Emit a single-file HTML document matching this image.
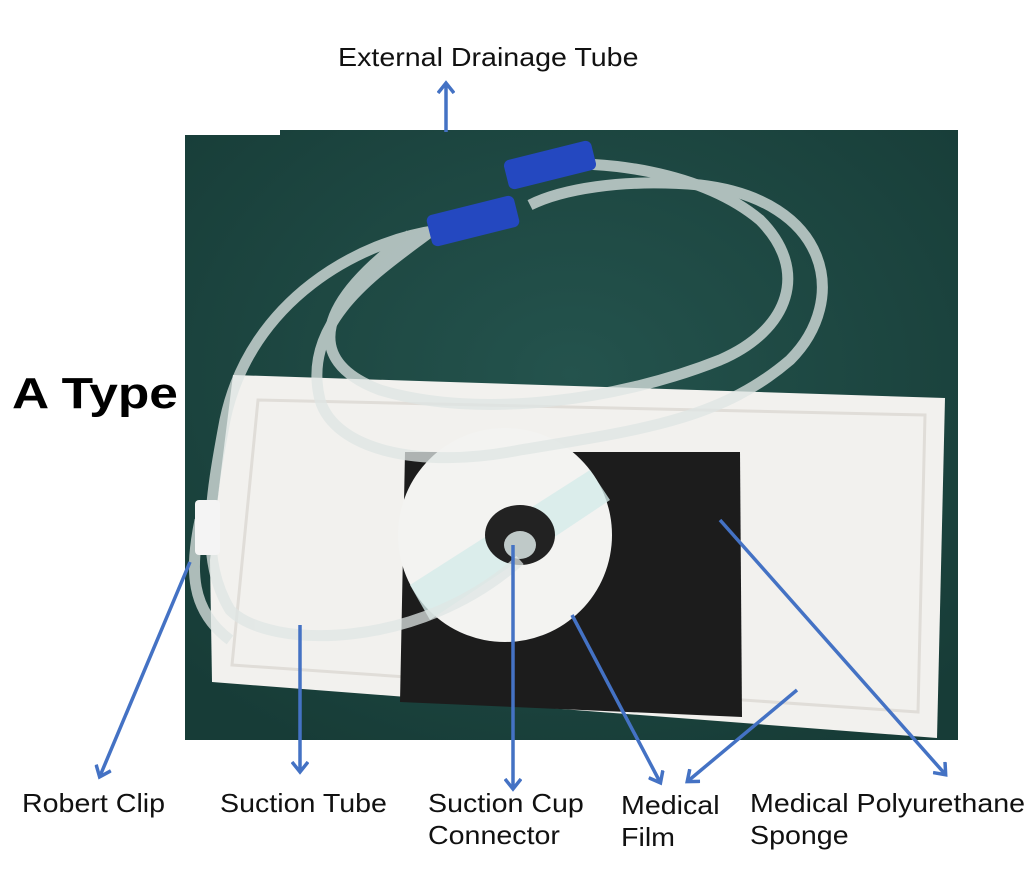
<!DOCTYPE html>
<html><head><meta charset="utf-8"><style>
body{margin:0;background:#fff;width:1031px;height:886px;overflow:hidden;position:relative;font-family:"Liberation Sans",Arial,sans-serif}
svg{position:absolute;left:0;top:0}
.t{position:absolute;font-size:26px;color:#111;line-height:32px;transform:scaleX(1.1);transform-origin:0 0;white-space:nowrap}
</style></head><body>
<svg width="1031" height="886" viewBox="0 0 1031 886">
<defs>
<marker id="a" markerWidth="16" markerHeight="18" refX="10" refY="9" orient="auto" markerUnits="userSpaceOnUse">
<path d="M1,1 L11,9 L1,17" fill="none" stroke="#4472c4" stroke-width="3.5"/></marker>
<radialGradient id="bg" cx="50%" cy="40%" r="70%"><stop offset="0" stop-color="#24534d"/><stop offset="1" stop-color="#173c37"/></radialGradient>
</defs>
<rect x="185" y="130" width="773" height="610" fill="url(#bg)"/>
<rect x="185" y="128" width="95" height="7" fill="#fff"/>
<polygon points="233,375 945,398 937,738 212,682 210,560" fill="#f2f1ee"/>
<polygon points="258,400 925,415 918,712 232,665" fill="none" stroke="#e0ddd8" stroke-width="3"/>
<polygon points="405,452 740,452 742,717 400,702" fill="#1c1c1c"/>
<circle cx="505" cy="535" r="107" fill="#f3f3f1"/>
<polygon points="410,585 590,470 610,500 430,620" fill="#d4ebea" opacity="0.8"/>
<ellipse cx="520" cy="535" rx="35" ry="30" fill="#222"/>
<ellipse cx="520" cy="545" rx="16" ry="14" fill="#bfc9c8"/>
<g fill="none" stroke="#dfe6e4" stroke-width="11" opacity="0.75">
<path d="M440,230 C360,240 250,300 225,420 C210,500 200,560 230,610 C270,650 420,650 520,560"/>
<path d="M430,232 C380,270 300,320 320,400 C335,450 420,470 520,450 C640,430 720,420 790,360 C850,300 830,200 700,185 C620,178 560,190 530,205"/>
<path d="M545,165 C600,160 700,170 760,220 C810,270 790,330 720,360 C620,400 480,420 380,390 C300,360 320,300 410,235"/>
<path d="M200,520 C190,570 190,610 230,640"/>
</g>
<rect x="505" y="150" width="90" height="30" rx="6" fill="#2448c0" transform="rotate(-14 550 165)"/>
<rect x="428" y="205" width="90" height="32" rx="6" fill="#2448c0" transform="rotate(-14 473 221)"/>
<rect x="195" y="500" width="25" height="55" rx="4" fill="#f4f4f4"/>
<g stroke="#4472c4" stroke-width="3.5" fill="none" marker-end="url(#a)">
<line x1="446" y1="132" x2="446" y2="84"/>
<line x1="190" y1="562" x2="100" y2="776"/>
<line x1="300" y1="625" x2="300" y2="771"/>
<line x1="513" y1="545" x2="513" y2="788"/>
<line x1="572" y1="615" x2="660" y2="782"/>
<line x1="797" y1="690" x2="688" y2="781"/>
<line x1="720" y1="520" x2="945" y2="774"/>
</g>
</svg>
<div class="t" style="left:338px;top:41px">External Drainage Tube</div>
<div class="t" style="left:12px;top:368px;font-size:44px;font-weight:900;line-height:52px;color:#000;transform:scaleX(1.17)">A Type</div>
<div class="t" style="left:22px;top:787px">Robert Clip</div>
<div class="t" style="left:220px;top:787px">Suction Tube</div>
<div class="t" style="left:428px;top:787px">Suction Cup<br>Connector</div>
<div class="t" style="left:621px;top:789px">Medical<br>Film</div>
<div class="t" style="left:750px;top:787px">Medical Polyurethane<br>Sponge</div>
</body></html>
